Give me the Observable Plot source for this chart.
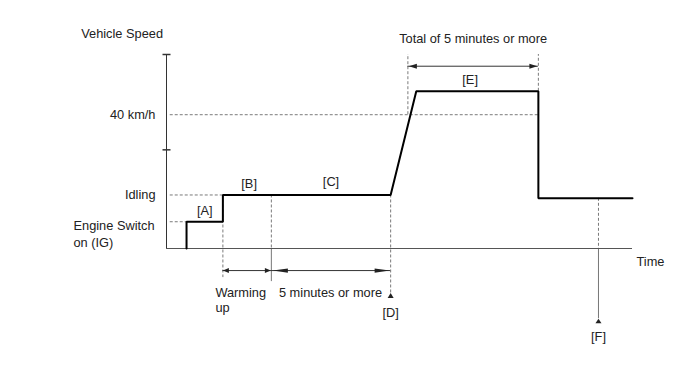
<!DOCTYPE html>
<html>
<head>
<meta charset="utf-8">
<script src="https://cdn.jsdelivr.net/npm/d3@7"></script>
<script src="https://cdn.jsdelivr.net/npm/@observablehq/plot@0.6"></script>
<style>
  html, body { margin: 0; padding: 0; background: #fff; }
  #chart svg { display: block; }
</style>
</head>
<body>
<div id="chart"></div>
<script>
// ---- data (schematic units: time 0–100, speed in km/h) ----
const phaseTimes = [4.3, 12.1, 22.5, 48.1, 51.8, 79.8, 92.7]; // engine on, idling, warm-up end, [D], [E] start, [E] end, [F]
const speedTime = [4.3, 4.3, 12.1, 12.1, 48.1, 53.6, 79.8, 79.8, 100];
const speedKmh  = [0,   8,   8,    16,   16,   47,   47,   15,   15];
const levelNames = ["Engine Switch\non (IG)", "Idling", "40 km/h"];
const levelKmh = [8, 16, 40];
const axisTicks = [29.5, 58];
const phaseLabels = ["[A]", "[B]", "[C]", "[E]"];
const spanLabels = ["Warming\nup", "5 minutes or more", "Total of 5 minutes or more"];
const eventLabels = ["[D]", "[F]"];
const axisTitles = ["Vehicle Speed", "Time"];

const [tOn, tIdle, tWarm, tD, tE0, tE1, tF] = phaseTimes;
const yMax = 58, tMax = 100;

// layout levels for annotations below the axis (in speed units)
const arrowY = -6.6, dTip = -13.3, fTip = -21.0, eArrowY = 54.5;

function tri(dir, len, half) {
  return {draw(ctx) {
    ctx.moveTo(0, 0);
    if (dir === "right") { ctx.lineTo(-len, -half); ctx.lineTo(-len, half); }
    else if (dir === "left") { ctx.lineTo(len, -half); ctx.lineTo(len, half); }
    else { ctx.lineTo(-half, len); ctx.lineTo(half, len); }
    ctx.closePath();
  }};
}
const hTick = {draw(ctx) { ctx.moveTo(-4, 0); ctx.lineTo(4, 0); }};

const speed = speedTime.map((t, i) => ({t, v: speedKmh[i]}));
const levelEnds = [tOn, tIdle, tE1];
const levels = levelKmh.map((v, i) => ({v, x2: levelEnds[i], name: levelNames[i]}));

const dashed = "3,2";
const grey = "#7a7a7a";
const ink = "#222";

const vDashed = [
  {x: tIdle, y1: 16, y2: arrowY - 2.1},
  {x: tWarm, y1: 16, y2: 0},
  {x: tD, y1: 16, y2: dTip},
  {x: tE0, y1: 40, y2: yMax},
  {x: tE1, y1: 47, y2: yMax},
  {x: tF, y1: 15, y2: 0}
];
const vSolid = [
  {x: tWarm, y1: 0, y2: arrowY - 3.3},
  {x: tF, y1: 0, y2: fTip}
];

const phaseLab = [
  {x: (tOn + tIdle) / 2, y: 8, text: phaseLabels[0], dy: -10.5, dx: 0},
  {x: (tIdle + tWarm) / 2, y: 16, text: phaseLabels[1], dy: -11.5, dx: 2},
  {x: (tWarm + tD) / 2, y: 16, text: phaseLabels[2], dy: -12.8, dx: 0},
  {x: (tE0 + tE1) / 2, y: 47, text: phaseLabels[3], dy: -11.5, dx: -3}
];

const chart = Plot.plot({
  width: 688,
  height: 366,
  marginLeft: 166,
  marginRight: 56,
  marginTop: 54,
  marginBottom: 118,
  x: {domain: [0, tMax], axis: null},
  y: {domain: [0, yMax], axis: null},
  style: {fontFamily: "'Liberation Sans', Arial, sans-serif", fontSize: "12.8px", color: ink, background: "#fff"},
  marks: [
    // dashed guides
    Plot.ruleY(levels, {y: "v", x1: 0.8, x2: "x2", stroke: grey, strokeDasharray: dashed}),
    Plot.ruleX(vDashed, {x: "x", y1: "y1", y2: "y2", stroke: grey, strokeDasharray: dashed}),
    Plot.ruleX(vSolid, {x: "x", y1: "y1", y2: "y2", stroke: "#777"}),
    // axes
    Plot.ruleX([0], {y1: 0, y2: yMax, stroke: "#333"}),
    Plot.ruleY([0], {x1: 0, x2: tMax, stroke: "#555"}),
    Plot.dot(axisTicks, {x: 0, y: d => d, symbol: hTick, stroke: "#333", fill: "none"}),
    // speed profile
    Plot.line(speed, {x: "t", y: "v", stroke: "#000", strokeWidth: 2, strokeLinejoin: "miter"}),
    // span arrows
    Plot.ruleY([arrowY], {x1: tIdle, x2: tWarm, stroke: "#333"}),
    Plot.ruleY([arrowY], {x1: tWarm, x2: tD, stroke: "#333"}),
    Plot.ruleY([eArrowY], {x1: tE0, x2: tE1, stroke: "#333"}),
    Plot.dot([tIdle], {x: d => d, y: arrowY, symbol: tri("left", 6, 2.5), fill: ink, stroke: "none"}),
    Plot.dot([tWarm], {x: d => d, y: arrowY, symbol: tri("right", 6, 2.5), fill: ink, stroke: "none", dx: -0.5}),
    Plot.dot([tWarm], {x: d => d, y: arrowY, symbol: tri("left", 15, 2.2), fill: ink, stroke: "none", dx: 1.5}),
    Plot.dot([tD], {x: d => d, y: arrowY, symbol: tri("right", 15, 2.2), fill: ink, stroke: "none", dx: -1}),
    Plot.dot([tE0], {x: d => d, y: eArrowY, symbol: tri("left", 8, 2.5), fill: ink, stroke: "none", dx: 1}),
    Plot.dot([tE1], {x: d => d, y: eArrowY, symbol: tri("right", 8, 2.5), fill: ink, stroke: "none", dx: -1}),
    Plot.dot([tD], {x: d => d, y: dTip, symbol: tri("up", 5, 3), fill: ink, stroke: "none"}),
    Plot.dot([tF], {x: d => d, y: fTip, symbol: tri("up", 4.5, 3), fill: ink, stroke: "none"}),
    // texts
    Plot.text([axisTitles[0]], {x: 0, y: yMax, text: d => d, textAnchor: "start", dx: -85.3, dy: -21, fill: ink}),
    Plot.text([axisTitles[1]], {x: tMax, y: 0, text: d => d, textAnchor: "start", dx: 4, dy: 13.7, fill: ink}),
    Plot.text(levels.slice(1), {x: 0, y: "v", text: "name", textAnchor: "end", dx: -11, fill: ink}),
    Plot.text(levels.slice(0, 1), {x: 0, y: "v", text: "name", textAnchor: "start", dx: -93, dy: 11.2, lineHeight: 1.3, fill: ink}),
    ...phaseLab.map(d => Plot.text([d], {x: "x", y: "y", text: "text", dy: d.dy, dx: d.dx, fill: ink})),
    Plot.text([spanLabels[0]], {x: tIdle, y: arrowY, text: d => d, textAnchor: "start", dx: -7.5, dy: 29.2, lineHeight: 1.17, fill: ink}),
    Plot.text([spanLabels[1]], {x: tWarm, y: arrowY, text: d => d, textAnchor: "start", dx: 7.6, dy: 22.7, fill: ink}),
    Plot.text([spanLabels[2]], {x: (tE0 + tE1) / 2, y: yMax, text: d => d, dy: -15.5, fill: ink}),
    Plot.text([eventLabels[0]], {x: tD, y: dTip, text: d => d, dy: 20, fill: ink}),
    Plot.text([eventLabels[1]], {x: tF, y: fTip, text: d => d, dy: 17.8, fill: ink})
  ]
});
document.getElementById("chart").appendChild(chart);
</script>
</body>
</html>
